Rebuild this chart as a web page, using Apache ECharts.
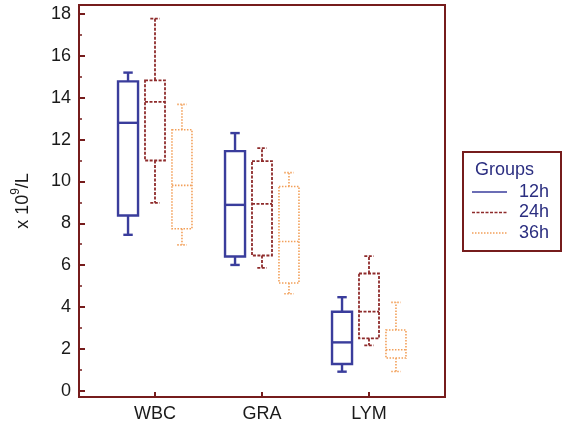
<!DOCTYPE html>
<html>
<head>
<meta charset="utf-8">
<script src="https://cdn.jsdelivr.net/npm/echarts@6/dist/echarts.min.js"></script>
<style>
html,body{margin:0;padding:0;background:#fff;}
#chart{width:562px;height:426px;}
</style>
</head>
<body>
<div id="chart"></div>
<script>
// ---- data ----
const categories = ['WBC', 'GRA', 'LYM'];
const groups = ['12h', '24h', '36h'];
// each row: [low, q1, median, q3, high] per category
const values12h = [
  [7.45, 8.37, 12.8, 14.78, 15.2],
  [6.01, 6.41, 8.88, 11.45, 12.31],
  [0.91, 1.28, 2.31, 3.77, 4.47]
];
const values24h = [
  [8.98, 11.0, 13.8, 14.83, 17.78],
  [5.87, 6.46, 8.93, 10.97, 11.59],
  [2.17, 2.5, 3.78, 5.6, 6.43]
];
const values36h = [
  [6.97, 7.74, 9.81, 12.47, 13.68],
  [4.63, 5.15, 7.13, 9.76, 10.42],
  [0.92, 1.56, 1.96, 2.9, 4.22]
];
const yTickLabels = [0, 2, 4, 6, 8, 10, 12, 14, 16, 18];
const yMinorTicks = [1, 3, 5, 7, 9, 11, 13, 15, 17];
const yAxisTitle = '{a|x 10}{s|9}{a|/L}';
const legendTitle = 'Groups';

// ---- styles ----
const maroon = '#761c1c';
const seriesStyles = [
  { color: '#3a3d9c', width: 2.4, dash: null, offset: -0.252 },
  { color: '#8e2b2b', width: 1.8, dash: [3, 1.5], offset: 0 },
  { color: '#f2a05a', width: 1.6, dash: [1.5, 1.5], offset: 0.252 }
];
const boxFrac = 0.187;
const capFrac = 0.088;

const seriesData = [values12h, values24h, values36h];

function makeRender(st) {
  return function (params, api) {
    const xv = api.value(0);
    const low = api.value(1), q1 = api.value(2), med = api.value(3), q3 = api.value(4), high = api.value(5);
    const unit = api.size([1, 0])[0];
    const base = api.coord([xv, med]);
    const cx = base[0] + st.offset * unit;
    const hw = boxFrac * unit / 2;
    const cw = capFrac * unit / 2;
    const y = v => api.coord([xv, v])[1];
    const style = { stroke: st.color, lineWidth: st.width, fill: null, lineDash: st.dash };
    const yq1 = y(q1), yq3 = y(q3), ymed = y(med), ylow = y(low), yhigh = y(high);
    return {
      type: 'group',
      children: [
        { type: 'rect', shape: { x: cx - hw, y: yq3, width: 2 * hw, height: yq1 - yq3 }, style: Object.assign({}, style, { fill: 'none' }) },
        { type: 'line', shape: { x1: cx - hw, y1: ymed, x2: cx + hw, y2: ymed }, style: style },
        { type: 'line', shape: { x1: cx, y1: yq3, x2: cx, y2: yhigh }, style: style },
        { type: 'line', shape: { x1: cx, y1: yq1, x2: cx, y2: ylow }, style: style },
        { type: 'line', shape: { x1: cx - cw, y1: yhigh, x2: cx + cw, y2: yhigh }, style: style },
        { type: 'line', shape: { x1: cx - cw, y1: ylow, x2: cx + cw, y2: ylow }, style: style }
      ]
    };
  };
}

const series = groups.map((g, si) => ({
  name: g,
  type: 'custom',
  renderItem: makeRender(seriesStyles[si]),
  encode: { x: 0, y: [1, 2, 3, 4, 5] },
  data: seriesData[si].map((row, ci) => [ci + 1].concat(row)),
  silent: true
}));

const font = 'Liberation Sans, Arial, sans-serif';
// legend drawn with graphic elements built from the group names
const legendX = 463, legendY = 152;
const legendChildren = [
  { type: 'rect', shape: { x: legendX, y: legendY, width: 98, height: 99 }, style: { fill: '#fff', stroke: maroon, lineWidth: 2 } },
  { type: 'text', x: legendX + 12, y: legendY + 18, style: { text: legendTitle, fontSize: 18, fontFamily: font, fill: '#2b2e80', verticalAlign: 'middle' } }
];
groups.forEach((g, i) => {
  const yy = legendY + 40 + i * 20.5;
  const st = seriesStyles[i];
  legendChildren.push({ type: 'line', shape: { x1: legendX + 9, y1: yy, x2: legendX + 44, y2: yy }, style: { stroke: st.color, lineWidth: Math.min(st.width, 1.4), lineDash: st.dash } });
  legendChildren.push({ type: 'text', x: legendX + 56, y: yy, style: { text: g, fontSize: 18, fontFamily: font, fill: '#2b2e80', verticalAlign: 'middle' } });
});

const chart = echarts.init(document.getElementById('chart'), null, { renderer: 'canvas' });
chart.setOption({
  animation: false,
  backgroundColor: '#fff',
  grid: { left: 79, right: 117, top: 5, bottom: 29, show: true, borderColor: maroon, borderWidth: 2, backgroundColor: 'transparent' },
  xAxis: {
    type: 'value', min: 0.2897, max: 3.7103,
    axisLine: { show: true, onZero: false, lineStyle: { color: maroon, width: 2 } },
    axisTick: { show: true, inside: true, length: 5, customValues: [1, 2, 3], lineStyle: { color: maroon, width: 2 } },
    axisLabel: { show: true, customValues: [1, 2, 3], formatter: v => categories[Math.round(v) - 1] || '', fontSize: 18, fontFamily: font, color: '#1a1a1a', margin: 8 },
    splitLine: { show: false }
  },
  yAxis: [
    {
      type: 'value', min: -0.3, max: 18.43,
      name: yAxisTitle, nameLocation: 'middle', nameRotate: 90, nameGap: 47,
      nameTextStyle: { rich: {
        a: { fontSize: 18, lineHeight: 22, fontFamily: font, color: '#1a1a1a', verticalAlign: 'bottom' },
        s: { fontSize: 12, lineHeight: 12, fontFamily: font, color: '#1a1a1a', verticalAlign: 'top' }
      } },
      axisLine: { show: true, onZero: false, lineStyle: { color: maroon, width: 2 } },
      axisTick: { show: true, inside: true, length: 6, customValues: yTickLabels, lineStyle: { color: maroon, width: 2 } },
      axisLabel: { show: true, customValues: yTickLabels, fontSize: 18, fontFamily: font, color: '#1a1a1a', margin: 8 },
      splitLine: { show: false }
    },
    {
      type: 'value', min: -0.3, max: 18.43, position: 'left',
      axisLine: { show: false },
      axisTick: { show: true, inside: true, length: 3, customValues: yMinorTicks, lineStyle: { color: maroon, width: 1.5 } },
      axisLabel: { show: false },
      splitLine: { show: false }
    }
  ],
  series: series,
  graphic: legendChildren
});
</script>
</body>
</html>
